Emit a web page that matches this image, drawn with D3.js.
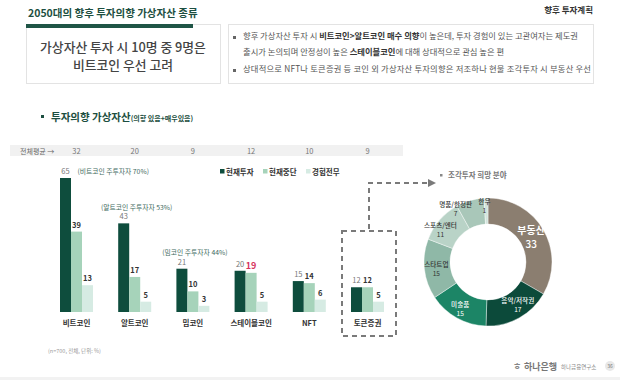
<!DOCTYPE html>
<html>
<head>
<meta charset="utf-8">
<script src="https://cdn.jsdelivr.net/npm/d3@7"></script>
<style>
body { margin: 0; background: #fff; }
svg { font-family: "Noto Sans CJK KR", "Noto Sans", sans-serif; }
</style>
</head>
<body>
<div id="chart"></div>
<script>
var svgWidth = 620;
var svgHeight = 380;

// data
var categories = ["비트코인", "알트코인", "밈코인", "스테이블코인", "NFT", "토큰증권"];
var averages = [32, 20, 9, 12, 10, 9];
var seriesNames = ["현재투자", "현재중단", "경험전무"];
var currentInvest = [65, 43, 21, 20, 15, 12];
var stoppedInvest = [39, 17, 10, 19, 14, 12];
var neverInvest = [13, 5, 3, 5, 6, 5];
var mainInvestorNotes = ["(비트코인 주투자자 70%)", "(알트코인 주투자자 53%)", "(밈코인 주투자자 44%)"];

var pieLabels = ["부동산", "음악/저작권", "미술품", "스타트업", "스포츠/엔터", "명품/한정판", "한우"];
var pieValues = [33, 17, 15, 15, 11, 7, 1];

var barColors = ["#0e4d3d", "#a6d3ba", "#d6ebe3"];
var pieColors = ["#8b7e70", "#0c4a3a", "#1c8566", "#8fb8a7", "#b9d3c7", "#a9c7b9", "#d3e4dc"];

var svg = d3.select("#chart")
	.append("svg")
	.attr("width", svgWidth)
	.attr("height", svgHeight);

// ---------- header ----------
svg.append("text")
	.attr("x", 28).attr("y", 17)
	.attr("font-size", 10.5).attr("font-weight", 700)
	.attr("fill", "#1d4f41")
	.text("2050대의 향후 투자의향 가상자산 종류");

svg.append("text")
	.attr("x", 593).attr("y", 13)
	.attr("text-anchor", "end")
	.attr("font-size", 8.5).attr("font-weight", 700)
	.attr("fill", "#333")
	.text("향후 투자계획");

svg.append("rect")
	.attr("x", 26.5).attr("y", 24.5).attr("width", 194).attr("height", 59)
	.attr("fill", "#fff").attr("stroke", "#e3e3e3");
svg.append("rect")
	.attr("x", 26).attr("y", 24).attr("width", 167).attr("height", 4)
	.attr("fill", "#1f5546");

svg.append("text")
	.attr("x", 123).attr("y", 52)
	.attr("text-anchor", "middle")
	.attr("font-size", 12.8).attr("font-weight", 500)
	.attr("fill", "#444")
	.text("가상자산 투자 시 10명 중 9명은");
svg.append("text")
	.attr("x", 123).attr("y", 70)
	.attr("text-anchor", "middle")
	.attr("font-size", 12.8).attr("font-weight", 500)
	.attr("fill", "#444")
	.text("비트코인 우선 고려");

svg.append("rect")
	.attr("x", 228.5).attr("y", 24.5).attr("width", 365).attr("height", 59)
	.attr("fill", "#fff").attr("stroke", "#e3e3e3");

var bulletGroup = svg.append("g")
	.attr("font-size", 8.3).attr("fill", "#555");

var line1 = bulletGroup.append("text").attr("x", 243).attr("y", 39);
line1.append("tspan").text("향후 가상자산 투자 시 ");
line1.append("tspan").attr("font-weight", 700).attr("fill", "#333").text("비트코인>알트코인 매수 의향");
line1.append("tspan").text("이 높은데, 투자 경험이 있는 고관여자는 제도권");

var line2 = bulletGroup.append("text").attr("x", 243).attr("y", 55);
line2.append("tspan").text("출시가 논의되며 안정성이 높은 ");
line2.append("tspan").attr("font-weight", 700).attr("fill", "#333").text("스테이블코인");
line2.append("tspan").text("에 대해 상대적으로 관심 높은 편");

bulletGroup.append("text").attr("x", 243).attr("y", 72)
	.attr("textLength", 348).attr("lengthAdjust", "spacing")
	.text("상대적으로 NFT나 토큰증권 등 코인 외 가상자산 투자의향은 저조하나 현물 조각투자 시 부동산 우선");

[36, 69].forEach(function(y) {
	svg.append("rect").attr("x", 233).attr("y", y).attr("width", 3).attr("height", 3).attr("fill", "#666");
});

// ---------- section title ----------
svg.append("rect").attr("x", 41).attr("y", 115).attr("width", 3).attr("height", 3).attr("fill", "#1d4f41");
var secTitle = svg.append("text").attr("x", 51).attr("y", 121).attr("fill", "#1d4f41").attr("font-weight", 700);
secTitle.append("tspan").attr("font-size", 10.5).text("투자의향 가상자산");
secTitle.append("tspan").attr("font-size", 7).text("(의향 있음+매우있음)");

// ---------- bar chart ----------
var baseline = 312;

var x0 = d3.scaleBand()
	.domain(categories)
	.range([60, 384])
	.paddingInner(0.433)
	.paddingOuter(0);

var x1 = d3.scaleBand()
	.domain(seriesNames)
	.range([0, x0.bandwidth()]);

var y = d3.scaleLinear()
	.domain([0, 65])
	.range([baseline, 178]);

var barData = categories.map(function(c, i) {
	return {
		cat: c,
		values: [currentInvest[i], stoppedInvest[i], neverInvest[i]]
	};
});

// average band
svg.append("rect")
	.attr("x", 10).attr("y", 145).attr("width", 393).attr("height", 11)
	.attr("fill", "#f1f1f1");
svg.append("text")
	.attr("x", 20).attr("y", 153.5)
	.attr("font-size", 7).attr("fill", "#666")
	.text("전체평균 →");
svg.selectAll(".avg")
	.data(averages)
	.enter()
	.append("text")
	.attr("class", "avg")
	.attr("x", (d, i) => x0(categories[i]) + x0.bandwidth() / 2)
	.attr("y", 154)
	.attr("text-anchor", "middle")
	.attr("font-size", 7.5).attr("fill", "#777")
	.text(d => d);

// legend
var legend = svg.append("g").attr("font-size", 7.5).attr("font-weight", 700).attr("fill", "#333");
var legendX = [220, 263, 306];
seriesNames.forEach(function(s, i) {
	legend.append("rect")
		.attr("x", legendX[i]).attr("y", 169).attr("width", 4.5).attr("height", 4.5)
		.attr("fill", barColors[i]);
	legend.append("text")
		.attr("x", legendX[i] + 6).attr("y", 174.5)
		.text(s);
});

var groups = svg.selectAll(".cat")
	.data(barData)
	.enter()
	.append("g")
	.attr("class", "cat")
	.attr("transform", d => `translate(${x0(d.cat)},0)`);

groups.selectAll("rect")
	.data(d => d.values)
	.enter()
	.append("rect")
	.attr("x", (d, i) => x1(seriesNames[i]))
	.attr("y", d => y(d))
	.attr("width", x1.bandwidth())
	.attr("height", d => baseline - y(d))
	.attr("fill", (d, i) => barColors[i]);

groups.selectAll(".val")
	.data(function(d) {
		return d.values.map(function(v, i) { return { v: v, i: i, cat: d.cat }; });
	})
	.enter()
	.append("text")
	.attr("class", "val")
	.attr("x", d => x1(seriesNames[d.i]) + x1.bandwidth() / 2)
	.attr("y", d => y(d.v) - 4)
	.attr("text-anchor", "middle")
	.attr("font-size", d => (d.cat === "스테이블코인" && d.i === 1) ? 9 : 7.5)
	.attr("font-weight", d => d.i === 0 ? 400 : 700)
	.attr("fill", function(d) {
		if (d.cat === "스테이블코인" && d.i === 1) return "#d6335e";
		return d.i === 0 ? "#777" : "#333";
	})
	.text(d => d.v);

// category labels
svg.selectAll(".catLabel")
	.data(categories)
	.enter()
	.append("text")
	.attr("class", "catLabel")
	.attr("x", d => x0(d) + x0.bandwidth() / 2)
	.attr("y", 326)
	.attr("text-anchor", "middle")
	.attr("font-size", 7.5).attr("font-weight", 700).attr("fill", "#333")
	.text(d => d);

// main investor notes
svg.selectAll(".note")
	.data(mainInvestorNotes)
	.enter()
	.append("text")
	.attr("class", "note")
	.attr("x", function(d, i) {
		var c = categories[i];
		return i === 0 ? x0(c) + x0.bandwidth() / 2 + 1 : x0(c) + x0.bandwidth() / 2 + 2;
	})
	.attr("y", function(d, i) {
		return i === 0 ? y(currentInvest[i]) - 4 : y(currentInvest[i]) - 13.5;
	})
	.attr("text-anchor", (d, i) => i === 0 ? "start" : "middle")
	.attr("font-size", 6.8).attr("fill", "#3f6b61")
	.text(d => d);

// dashed highlight around 토큰증권
var tx = x0("토큰증권");
var boxLeft = tx - 9, boxRight = tx + x0.bandwidth() + 12;
var boxMid = (boxLeft + boxRight) / 2;
svg.append("rect")
	.attr("x", boxLeft).attr("y", 231)
	.attr("width", boxRight - boxLeft).attr("height", 105)
	.attr("fill", "none")
	.attr("stroke", "#7a7a7a").attr("stroke-width", 2)
	.attr("stroke-dasharray", "5,4");

svg.append("defs").append("marker")
	.attr("id", "arrow")
	.attr("viewBox", "0 0 10 10")
	.attr("refX", 5).attr("refY", 5)
	.attr("markerWidth", 4).attr("markerHeight", 4)
	.attr("orient", "auto")
	.append("path")
	.attr("d", "M0,0L10,5L0,10Z")
	.attr("fill", "#7a7a7a");

svg.append("path")
	.attr("d", `M${boxMid},229 L${boxMid},183 L432,183`)
	.attr("fill", "none")
	.attr("stroke", "#7a7a7a").attr("stroke-width", 2)
	.attr("stroke-dasharray", "5,4")
	.attr("marker-end", "url(#arrow)");

// ---------- donut ----------
svg.append("rect").attr("x", 440).attr("y", 174).attr("width", 2.5).attr("height", 2.5).attr("fill", "#888");
svg.append("text")
	.attr("x", 448).attr("y", 178)
	.attr("font-size", 7.5).attr("font-weight", 700).attr("fill", "#777")
	.text("조각투자 희망 분야");

var cx = 488, cy = 262, outerR = 64, innerR = 38;
var pie = d3.pie().sort(null).value(d => d);
var arc = d3.arc().innerRadius(innerR).outerRadius(outerR);
var labelArc = d3.arc().innerRadius(51).outerRadius(51);

var donut = svg.append("g").attr("transform", `translate(${cx},${cy})`);
var arcs = pie(pieValues);

donut.selectAll("path")
	.data(arcs)
	.enter()
	.append("path")
	.attr("d", arc)
	.attr("fill", (d, i) => pieColors[i])
	.attr("stroke", "#fff").attr("stroke-width", 0.4);

var labelNudge = [[-1, 0], [5, -3], [-3, 1], [-1, 0], [-9, 0], [-18, -5], [-2, -6]];
var pieLabelGroups = donut.selectAll(".pl")
	.data(arcs)
	.enter()
	.append("g")
	.attr("class", "pl")
	.attr("transform", function(d, i) {
		var c = labelArc.centroid(d);
		return `translate(${c[0] + labelNudge[i][0]},${c[1] + labelNudge[i][1]})`;
	});

pieLabelGroups.append("text")
	.attr("text-anchor", "middle")
	.attr("y", (d, i) => i === 0 ? -3 : -1)
	.attr("font-size", (d, i) => i === 0 ? 10 : 6.6)
	.attr("font-weight", (d, i) => i === 0 ? 700 : 500)
	.attr("fill", (d, i) => i < 3 ? "#fff" : "#333")
	.text((d, i) => pieLabels[i]);
pieLabelGroups.append("text")
	.attr("text-anchor", "middle")
	.attr("y", (d, i) => i === 0 ? 11 : 8)
	.attr("font-size", (d, i) => i === 0 ? 10 : 6.6)
	.attr("font-weight", (d, i) => i === 0 ? 500 : 400)
	.attr("fill", (d, i) => i < 3 ? "#fff" : "#333")
	.text(d => d.data);

// ---------- footer ----------
svg.append("text")
	.attr("x", 48).attr("y", 353)
	.attr("font-size", 5.5).attr("fill", "#999")
	.text("(n=700, 전체, 단위: %)");

svg.append("text")
	.attr("x", 513).attr("y", 370)
	.attr("font-size", 9).attr("font-weight", 700).attr("fill", "#888")
	.text("ㅎ");
svg.append("text")
	.attr("x", 524).attr("y", 370)
	.attr("font-size", 9).attr("font-weight", 700).attr("fill", "#777")
	.text("하나은행");
svg.append("text")
	.attr("x", 561).attr("y", 369)
	.attr("font-size", 5.5).attr("fill", "#888")
	.text("하나금융연구소");
svg.append("circle").attr("cx", 610).attr("cy", 366).attr("r", 5).attr("fill", "#e8e8e8");
svg.append("text")
	.attr("x", 610).attr("y", 368)
	.attr("text-anchor", "middle")
	.attr("font-size", 5).attr("fill", "#777")
	.text("36");

svg.append("rect").attr("x", 0).attr("y", 377).attr("width", 620).attr("height", 3).attr("fill", "#f2f2f2");
</script>
</body>
</html>
